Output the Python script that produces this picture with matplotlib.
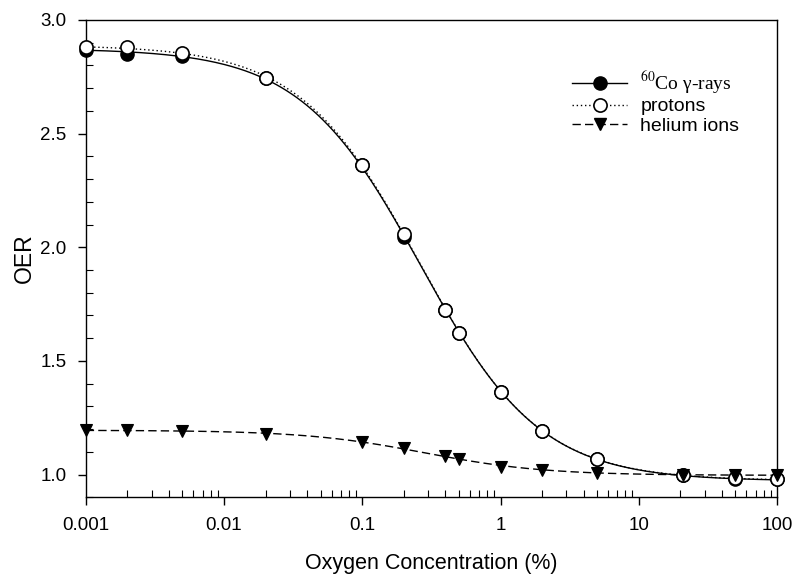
import numpy as np
import matplotlib
matplotlib.use("Agg")
import matplotlib.pyplot as plt
from matplotlib.ticker import FixedLocator, LogLocator, NullFormatter, MultipleLocator

plt.rcParams['font.family'] = ['Liberation Sans', 'DejaVu Sans']
plt.rcParams['mathtext.fontset'] = 'stix'

# ---- data ----
oxygen = [0.001, 0.002, 0.005, 0.02, 0.1, 0.2, 0.4, 0.5, 1, 2, 5, 21, 50, 100]
oer_co = [2.87, 2.85, 2.84, 2.745, 2.36, 2.045, 1.725, 1.625, 1.365, 1.19, 1.07, 1.0, 0.98, 0.98]
oer_protons = [2.88, 2.88, 2.855, 2.745, 2.36, 2.06, 1.725, 1.625, 1.365, 1.19, 1.07, 1.0, 0.985, 0.98]
oer_helium = [1.195, 1.195, 1.19, 1.18, 1.145, 1.115, 1.08, 1.07, 1.035, 1.02, 1.005, 1.0, 1.0, 1.0]

x_ticks = [0.001, 0.01, 0.1, 1, 10, 100]
x_ticklabels = ['0.001', '0.01', '0.1', '1', '10', '100']
y_ticks = [1.0, 1.5, 2.0, 2.5, 3.0]
y_ticklabels = ['1.0', '1.5', '2.0', '2.5', '3.0']


def fit_curve(p, y):
    """Least-squares fit of OER(p) = lo + (hi - lo) * K / (p + K)."""
    p = np.asarray(p, float)
    y = np.asarray(y, float)
    best = None
    for K in np.logspace(-3, 1, 801):
        A = np.column_stack([p / (p + K), K / (p + K)])
        coef, *_ = np.linalg.lstsq(A, y, rcond=None)
        err = np.sum((A @ coef - y) ** 2)
        if best is None or err < best[0]:
            best = (err, K, coef)
    _, K, (lo, hi) = best
    pp = np.logspace(np.log10(p.min()), np.log10(p.max()), 400)
    return pp, lo * pp / (pp + K) + hi * K / (pp + K)


fig = plt.figure(figsize=(7.94, 5.79), dpi=100)
ax = fig.add_axes([0.108, 0.141, 0.8706, 0.8245])

xs, ys = fit_curve(oxygen, oer_co)
ax.plot(xs, ys, color='black', lw=1.0, ls='-')
xs, ys = fit_curve(oxygen, oer_protons)
ax.plot(xs, ys, color='black', lw=1.0, ls=(0, (1, 2)))
xs, ys = fit_curve(oxygen, oer_helium)
ax.plot(xs, ys, color='black', lw=1.0, ls=(0, (6, 3)))

ax.plot(oxygen, oer_co, ls='none', marker='o', ms=9.5, mfc='black', mec='black', mew=1.0, clip_on=False, zorder=3)
ax.plot(oxygen, oer_protons, ls='none', marker='o', ms=9.5, mfc='white', mec='black', mew=1.2, clip_on=False, zorder=4)
ax.plot(oxygen, oer_helium, ls='none', marker='v', ms=9, mfc='black', mec='black', mew=0.8, clip_on=False, zorder=5)

# legend handles
h1, = ax.plot([], [], color='black', lw=1.0, ls='-', marker='o', ms=9.5, mfc='black', mec='black')
h2, = ax.plot([], [], color='black', lw=1.0, ls=(0, (1, 2)), marker='o', ms=9.5, mfc='white', mec='black', mew=1.2)
h3, = ax.plot([], [], color='black', lw=1.0, ls=(0, (6, 3)), marker='v', ms=9, mfc='black', mec='black')
leg = ax.legend([h1, h2, h3], ['$^{60}$Co γ-rays', 'protons', 'helium ions'],
                loc='upper left', bbox_to_anchor=(0.692, 0.912), frameon=False,
                fontsize=14, handlelength=2.85, handletextpad=0.67, labelspacing=0.08,
                borderaxespad=0)
leg.get_texts()[0].set_family(['Liberation Serif', 'DejaVu Serif'])

ax.set_xscale('log')
ax.set_xlim(0.001, 100)
ax.set_ylim(0.9, 3.0)
ax.xaxis.set_major_locator(FixedLocator(x_ticks))
ax.set_xticks(x_ticks)
ax.set_xticklabels(x_ticklabels)
ax.xaxis.set_minor_locator(LogLocator(base=10, subs=np.arange(2, 10), numticks=20))
ax.xaxis.set_minor_formatter(NullFormatter())
ax.set_yticks(y_ticks)
ax.set_yticklabels(y_ticklabels)
ax.yaxis.set_minor_locator(MultipleLocator(0.1))

ax.tick_params(which='major', direction='out', length=6, width=1.0, labelsize=13.5, pad=8, colors='black')
ax.tick_params(which='minor', direction='in', length=5, width=0.8)
for s in ax.spines.values():
    s.set_linewidth(1.0)

ax.set_xlabel('Oxygen Concentration (%)', fontsize=15.5, labelpad=14)
ax.set_ylabel('OER', fontsize=16.5, labelpad=3)

fig.savefig('out.png', dpi=100)
